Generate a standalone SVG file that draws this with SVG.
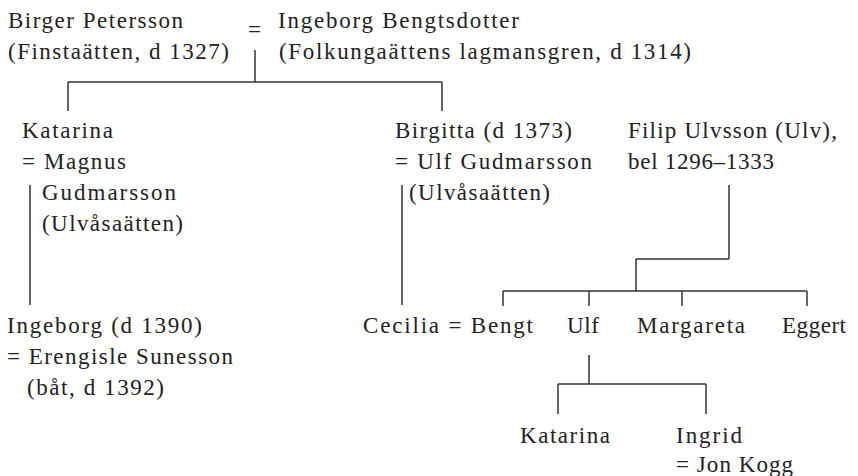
<svg xmlns="http://www.w3.org/2000/svg" width="858" height="476" viewBox="0 0 858 476">
<style>
text{font-family:"Liberation Serif","Times New Roman",serif;font-size:23px;fill:#222;}
.c line{stroke:#333;stroke-width:1.5;fill:none;}
</style>
<rect width="858" height="476" fill="#fff"/>
<g class="c" id="connectors">
<line x1="255" y1="50" x2="255" y2="82"/>
<line x1="68" y1="82" x2="442" y2="82"/>
<line x1="68" y1="82" x2="68" y2="111"/>
<line x1="442" y1="82" x2="442" y2="111"/>
<line x1="30" y1="185" x2="30" y2="305"/>
<line x1="402" y1="185" x2="402" y2="305"/>
<line x1="729" y1="185" x2="729" y2="259"/>
<line x1="636" y1="259" x2="729" y2="259"/>
<line x1="636" y1="259" x2="636" y2="291"/>
<line x1="503" y1="291" x2="807" y2="291"/>
<line x1="503" y1="291" x2="503" y2="306"/>
<line x1="589" y1="291" x2="589" y2="306"/>
<line x1="682" y1="291" x2="682" y2="306"/>
<line x1="807" y1="291" x2="807" y2="306"/>
<line x1="589" y1="355" x2="589" y2="384"/>
<line x1="558" y1="384" x2="706" y2="384"/>
<line x1="558" y1="384" x2="558" y2="414"/>
<line x1="706" y1="384" x2="706" y2="414"/>
</g>
<g id="birger"><text x="8" y="28" textLength="175" lengthAdjust="spacing">Birger Petersson</text><text x="8" y="59" textLength="221" lengthAdjust="spacing">(Finstaätten, d 1327)</text></g>
<g id="marriage1"><text x="248" y="37">=</text></g>
<g id="ingeborg-b"><text x="278" y="28" textLength="241" lengthAdjust="spacing">Ingeborg Bengtsdotter</text><text x="279" y="59" textLength="412" lengthAdjust="spacing">(Folkungaättens lagmansgren, d 1314)</text></g>
<g id="katarina1"><text x="22" y="138" textLength="91" lengthAdjust="spacing">Katarina</text><text x="22" y="169" textLength="104" lengthAdjust="spacing">= Magnus</text><text x="42" y="200" textLength="134" lengthAdjust="spacing">Gudmarsson</text><text x="42" y="231" textLength="141" lengthAdjust="spacing">(Ulvåsaätten)</text></g>
<g id="birgitta"><text x="395" y="138" textLength="177" lengthAdjust="spacing">Birgitta (d 1373)</text><text x="395" y="169" textLength="197" lengthAdjust="spacing">= Ulf Gudmarsson</text><text x="409" y="200" textLength="141" lengthAdjust="spacing">(Ulvåsaätten)</text></g>
<g id="filip"><text x="628" y="138" textLength="209" lengthAdjust="spacing">Filip Ulvsson (Ulv),</text><text x="628" y="169" textLength="146" lengthAdjust="spacing">bel 1296–1333</text></g>
<g id="ingeborg"><text x="7" y="333" textLength="195" lengthAdjust="spacing">Ingeborg (d 1390)</text><text x="7" y="364" textLength="226" lengthAdjust="spacing">= Erengisle Sunesson</text><text x="27" y="395" textLength="137" lengthAdjust="spacing">(båt, d 1392)</text></g>
<g id="cecilia"><text x="363" y="333" textLength="170" lengthAdjust="spacing">Cecilia = Bengt</text></g>
<g id="ulf"><text x="567" y="333" textLength="32" lengthAdjust="spacing">Ulf</text></g>
<g id="margareta"><text x="637" y="333" textLength="108" lengthAdjust="spacing">Margareta</text></g>
<g id="eggert"><text x="782" y="333" textLength="64" lengthAdjust="spacing">Eggert</text></g>
<g id="katarina2"><text x="520" y="443" textLength="90" lengthAdjust="spacing">Katarina</text></g>
<g id="ingrid"><text x="676" y="443" textLength="66" lengthAdjust="spacing">Ingrid</text><text x="676" y="472" textLength="117" lengthAdjust="spacing">= Jon Kogg</text></g>
</svg>
